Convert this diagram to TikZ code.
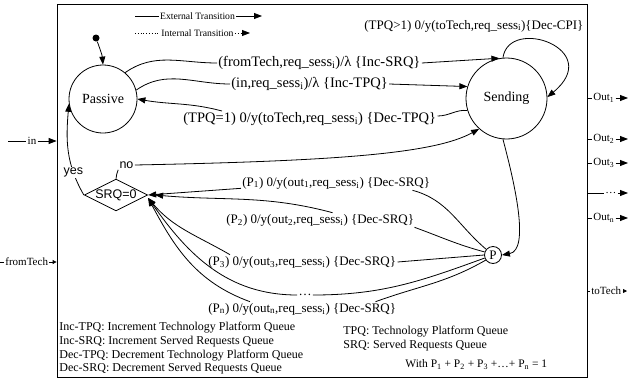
\documentclass[tikz,border=0pt]{standalone}
\usepackage{fontspec}
\setmainfont{Liberation Serif}
\setsansfont{Liberation Sans}
\usetikzlibrary{shapes.geometric,arrows.meta}
\newcommand{\reqsess}{req\_sess\textsubscript{i}}

\begin{document}
\begin{tikzpicture}[x=1pt, y=1pt, line width=0.8pt, >={Triangle[length=8pt,width=6pt]},
    state/.style={circle, draw, inner sep=0pt, font=\fontsize{14}{16}\selectfont},
    trans/.style={inner sep=1pt, anchor=west, font=\fontsize{13}{15}\selectfont},
    bigtrans/.style={trans, font=\fontsize{14.5}{16}\selectfont},
    port/.style={inner sep=1pt, font=\fontsize{11}{13}\selectfont},
    legend/.style={inner sep=1pt, font=\fontsize{9.7}{11}\selectfont},
    notes/.style={inner sep=0pt, align=left, anchor=north west, font=\fontsize{12}{13.7}\selectfont},
    choice/.style={diamond, draw, aspect=2, inner sep=0pt, font=\sffamily\fontsize{12.5}{14}\selectfont},
    answer/.style={fill=white, inner sep=1pt, font=\sffamily\fontsize{12.5}{14}\selectfont},
    smallarrow/.style={-{Triangle[length=4pt,width=4pt]}}]
  \useasboundingbox (0,0) rectangle (629,-380);

  % block frame
  \node[draw, minimum width=530, minimum height=373, inner sep=0pt] (frame) at (322,-190.5) {};

  % legend of the line kinds
  \coordinate (ext0) at (135,-16);
  \coordinate (ext1) at (262,-16);
  \node[legend] (ext) at (197.5,-16) {External Transition};
  \draw (ext0) -- (ext.west);
  \draw[->] (ext.east) -- (ext1);
  \coordinate (int0) at (135,-33);
  \coordinate (int1) at (250,-33);
  \node[legend] (int) at (197.5,-33) {Internal Transition};
  \draw[dotted] (int0) -- (int.west);
  \draw[dotted,->] (int.east) -- (int1);

  % states
  \node[state, minimum size=68] (passive) at (103,-99) {Passive};
  \node[state, minimum size=81] (sending) at (506.5,-98.5) {Sending};
  \node[circle, fill, inner sep=0pt, minimum size=7] (init) at (96,-38) {};
  \node[choice] (srq) at (116,-195) {SRQ=0};
  \node[state, minimum size=17, font=\fontsize{13}{15}\selectfont] (p) at (493,-255) {P};

  % transition labels
  \node[bigtrans] (fromtech) at (217,-63) {(fromTech,\reqsess)/λ \{Inc-SRQ\}};
  \node[bigtrans] (intpq) at (230,-84) {(in,\reqsess)/λ \{Inc-TPQ\}};
  \node[bigtrans] (dectpq) at (182,-119) {(TPQ=1) 0/y(toTech,\reqsess) \{Dec-TPQ\}};
  \node[trans] (deccpi) at (363,-26) {(TPQ>1) 0/y(toTech,\reqsess)\{Dec-CPI\}};
  \node[trans] (pa) at (241,-183) {(P\textsubscript{1}) 0/y(out\textsubscript{1},\reqsess) \{Dec-SRQ\}};
  \node[trans] (pb) at (225,-220) {(P\textsubscript{2}) 0/y(out\textsubscript{2},\reqsess) \{Dec-SRQ\}};
  \node[trans] (pc) at (207,-262) {(P\textsubscript{3}) 0/y(out\textsubscript{3},\reqsess) \{Dec-SRQ\}};
  \node[trans, anchor=center] (pdots) at (305,-295) {\ldots};
  \node[trans] (pn) at (207,-309) {(P\textsubscript{n}) 0/y(out\textsubscript{n},\reqsess) \{Dec-SRQ\}};
  \node[answer] (no) at (126.5,-165) {no};

  % external and internal transitions
  \draw (passive.50) to[out=35,in=180] (fromtech.west);
  \draw[->] (fromtech.east) -- (sending.100);
  \draw (passive.15) to[out=35,in=180] (intpq.west);
  \draw[->] (intpq.east) -- (sending.163);
  \draw (sending.197) to[out=175,in=0] ([yshift=3pt]dectpq.east);
  \draw[->] ([xshift=40pt]dectpq.north west) to[out=165,in=-10] (passive.east);
  \draw[->] (sending.95) .. controls +(6,42) and +(58,48) .. (sending.2);
  \draw[->] (init) to[out=-70,in=95] (passive.north);
  \draw[->] (srq.west) to[out=120,in=-95] node[answer,pos=.25] (yes) {yes} (passive.188);
  \draw (srq.north) to[out=75,in=-120] (no.south west);
  \draw[->] (no.east) .. controls +(200,4) and +(-45,-25) .. (sending.228);
  \draw[->] (sending.265) .. controls +(12,-45) and +(28,5) .. (p.east);

  % branches of P
  \draw (p.140) to[out=140,in=-15] ([xshift=-19pt]pa.south east);
  \draw[->] ([yshift=2pt]pa.south west) -- (srq.east);
  \draw (p.160) to[out=165,in=-20] ([xshift=-1pt]pb.south east);
  \draw[->] ([xshift=-83pt]pb.north east) to[out=165,in=-5] ([xshift=7pt]srq.east);
  \draw (p.west) -- (pc.east);
  \draw[->] ([xshift=23pt]pc.north west) to[out=150,in=-50] ([yshift=-3pt]srq.east);
  \draw (p.200) to[out=200,in=0] (pdots.east);
  \draw[->] (pdots.west) to[out=180,in=-55] ([yshift=-3pt]srq.east);
  \draw (p.215) to[out=210,in=20] ([xshift=-22pt]pn.north east);
  \draw[->] ([xshift=43pt]pn.north west) to[out=160,in=-62] ([yshift=-3pt]srq.east);

  % input ports
  \coordinate (in0) at (8,-141);
  \node[port] (in) at (32,-141) {in};
  \draw (in0) -- (in.west);
  \draw[->] (in.east) -- (in.east -| frame.west);
  \coordinate (ft0) at (0,-262);
  \node[port, anchor=west] (fromtechin) at (4,-262) {fromTech};
  \draw (ft0) -- (fromtechin.west);
  \draw[smallarrow] (fromtechin.east) -- (fromtechin.east -| frame.west);

  % output ports
  \foreach \name/\y in {1/98, 2/139, 3/163, n/218} {
    \node[port, anchor=west] (out\name) at (592,-\y) {Out\textsubscript{\name}};
    \coordinate (tip\name) at (628,-\y);
    \draw (out\name.west -| frame.east) -- (out\name.west);
    \draw[->] (out\name.east) -- (tip\name);
  }
  \node[port, anchor=west] (outdots) at (604,-193) {\ldots};
  \coordinate (tipdots) at (628,-193);
  \draw (outdots.west -| frame.east) -- (outdots.west);
  \draw[->] (outdots.east) -- (tipdots);
  \node[port, anchor=west] (totech) at (590,-291) {toTech};
  \coordinate (tiptotech) at (627,-291);
  \draw (totech.west -| frame.east) -- (totech.west);
  \draw[smallarrow] (totech.east) -- (tiptotech);

  % abbreviations
  \node[notes] (abbrl) at (59,-322) {Inc-TPQ: Increment Technology Platform Queue\\
    Inc-SRQ: Increment Served Requests Queue\\
    Dec-TPQ: Decrement Technology Platform Queue\\
    Dec-SRQ: Decrement Served Requests Queue};
  \node[notes] (abbrr) at (343,-326) {TPQ: Technology Platform Queue\\
    SRQ: Served Requests Queue};
  \node[notes, font=\fontsize{11.5}{13}\selectfont] (sumrule) at (405,-359) {With P\textsubscript{1} + P\textsubscript{2} + P\textsubscript{3} +\ldots+ P\textsubscript{n} = 1};
\end{tikzpicture}
\end{document}
